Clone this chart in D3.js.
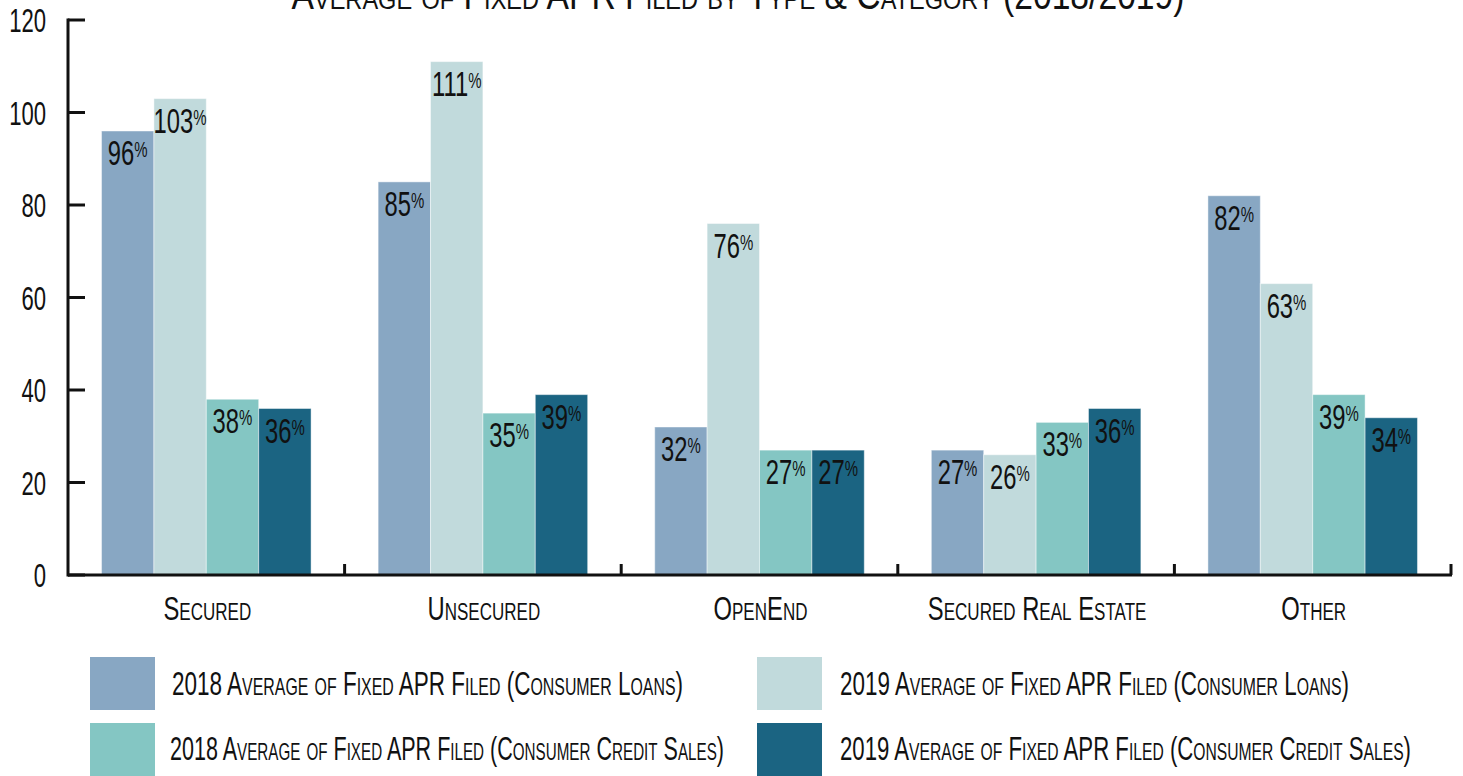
<!DOCTYPE html>
<html>
<head>
<meta charset="utf-8">
<script src="https://cdn.jsdelivr.net/npm/d3@7"></script>
<style>
  html, body { margin: 0; padding: 0; background: #fff; overflow: hidden; }
  text { font-family: "Liberation Sans", Arial, sans-serif; fill: #111; }
</style>
</head>
<body>
<svg id="main-svg" width="1463" height="776"></svg>
<script>
// categories and series
var categories = ['Secured', 'Unsecured', 'OpenEnd', 'Secured Real Estate', 'Other']
var seriesNames = [
    '2018 Average of Fixed APR Filed (Consumer Loans)',
    '2019 Average of Fixed APR Filed (Consumer Loans)',
    '2018 Average of Fixed APR Filed (Consumer Credit Sales)',
    '2019 Average of Fixed APR Filed (Consumer Credit Sales)'
]
var loans2018 = [96, 85, 32, 27, 82]
var loans2019 = [103, 111, 76, 26, 63]
var credit2018 = [38, 35, 27, 33, 39]
var credit2019 = [36, 39, 27, 36, 34]
var yTicks = [0, 20, 40, 60, 80, 100, 120]
var colors = ['#88a7c3', '#c1dadc', '#84c6c3', '#1b6482']
var title = 'Average of Fixed APR Filed by Type & Category (2018/2019)'

var seriesValues = [loans2018, loans2019, credit2018, credit2019]

var svg = d3.select('#main-svg')

var x0 = d3.scaleBand().domain(categories).range([68, 1451]).padding(0)
var x1 = d3.scaleBand().domain(d3.range(seriesNames.length))
    .range([0, x0.bandwidth()]).paddingInner(0).paddingOuter(0.64)
var y = d3.scaleLinear().domain([0, 120]).range([575, 20])

// squeezed text, standing in for the condensed face of the original
function squeezed(g, x, yy, s, sx, anchor) {
    return g.append('text')
        .attr('transform', 'translate(' + x + ',' + yy + ') scale(' + sx + ',1)')
        .attr('text-anchor', anchor || 'start')
        .style('font-size', s + 'px')
}

// title (cut off at the top, as in the reference)
svg.append('text')
    .attr('x', 738).attr('y', 9)
    .attr('text-anchor', 'middle')
    .attr('textLength', 893).attr('lengthAdjust', 'spacingAndGlyphs')
    .style('font-size', '40px')
    .style('font-variant', 'small-caps')
    .text(title)

// bars
var groups = svg.selectAll('g.cat')
    .data(categories)
    .join('g')
    .attr('class', 'cat')
    .attr('transform', function(d) { return 'translate(' + x0(d) + ',0)' })

groups.each(function(cat, ci) {
    var g = d3.select(this)
    for (var si = 0; si < seriesValues.length; si++) {
        var v = seriesValues[si][ci]
        g.append('rect')
            .attr('x', x1(si))
            .attr('y', y(v))
            .attr('width', x1.bandwidth())
            .attr('height', y(0) - y(v))
            .attr('fill', colors[si])
            .attr('stroke', 'rgba(255,255,255,0.45)')
            .attr('stroke-width', 1)
        var t = squeezed(g, x1(si) + x1.bandwidth() / 2, y(v) + 34, 35, 0.68, 'middle')
        t.append('tspan').text(v)
        t.append('tspan').attr('dy', -8).style('font-size', '22px').text('%')
    }
})

// y axis
var yAxis = svg.append('g')
yAxis.append('line')
    .attr('x1', 68).attr('x2', 68)
    .attr('y1', y(120) - 1.5).attr('y2', y(0) + 1.5)
    .attr('stroke', '#111').attr('stroke-width', 3)
yTicks.forEach(function(t) {
    yAxis.append('line')
        .attr('x1', 68).attr('x2', 85)
        .attr('y1', y(t)).attr('y2', y(t))
        .attr('stroke', '#111').attr('stroke-width', 3)
    squeezed(yAxis, 46, y(t) + 12, 34, 0.65, 'end').text(t)
})

// x axis
var xAxis = svg.append('g')
xAxis.append('line')
    .attr('x1', 68).attr('x2', 1452)
    .attr('y1', y(0)).attr('y2', y(0))
    .attr('stroke', '#111').attr('stroke-width', 3)
categories.forEach(function(c) {
    var xr = x0(c) + x0.bandwidth()
    xAxis.append('line')
        .attr('x1', xr).attr('x2', xr)
        .attr('y1', y(0)).attr('y2', y(0) - 11)
        .attr('stroke', '#111').attr('stroke-width', 3)
    squeezed(xAxis, x0(c) + x0.bandwidth() / 2 + 1, 620, 34, 0.7, 'middle')
        .style('font-variant', 'small-caps')
        .text(c)
})

// legend
var legendPos = [[90, 657, 172, 695, 511], [757, 657, 840, 695, 509],
                 [90, 723, 170, 760, 554], [757, 723, 840, 760, 571]]
var legend = svg.append('g')
seriesNames.forEach(function(name, i) {
    var p = legendPos[i]
    legend.append('rect')
        .attr('x', p[0]).attr('y', p[1])
        .attr('width', 65).attr('height', 53)
        .attr('fill', colors[i])
    legend.append('text')
        .attr('x', p[2]).attr('y', p[3])
        .attr('textLength', p[4]).attr('lengthAdjust', 'spacingAndGlyphs')
        .style('font-size', '34px')
        .style('font-variant', 'small-caps')
        .text(name)
})
</script>
</body>
</html>
